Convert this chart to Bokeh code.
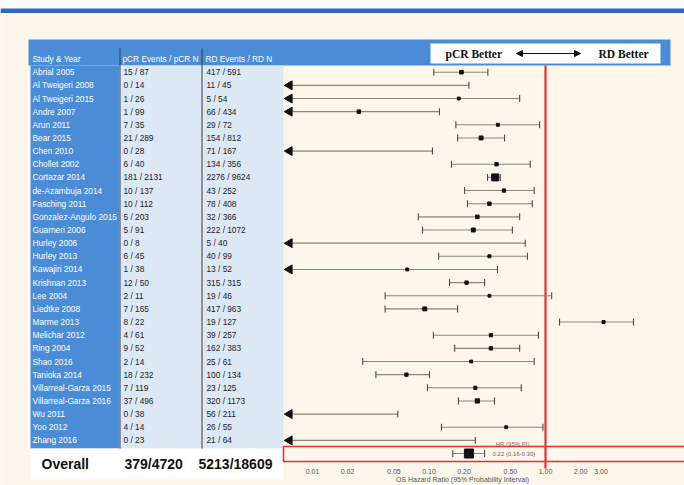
import numpy as np
from bokeh.plotting import figure
from bokeh.models import (ColumnDataSource, Range1d, LogScale, LogAxis, FixedTicker,
                          PrintfTickFormatter, Label, Arrow, NormalHead)
from bokeh.embed import file_html
from bokeh.resources import INLINE
from bokeh.core.properties import value

# ---- study table ----
studies = ["Abrial 2005", "Al Tweigeri 2008", "Al Tweigeri 2015", "Andre 2007", "Arun 2011",
           "Bear 2015", "Chen 2010", "Chollet 2002", "Cortazar 2014", "de-Azambuja 2014",
           "Fasching 2011", "Gonzalez-Angulo 2015", "Guarneri 2006", "Hurley 2006", "Hurley 2013",
           "Kawajiri 2014", "Krishnan 2013", "Lee 2004", "Liedtke 2008", "Marme 2013",
           "Melichar 2012", "Ring 2004", "Shao 2016", "Tanioka 2014", "Villarreal-Garza 2015",
           "Villarreal-Garza 2016", "Wu 2011", "Yoo 2012", "Zhang 2016"]
pcr_events = [15, 0, 1, 1, 7, 21, 0, 6, 181, 10, 10, 5, 5, 0, 6, 1, 12, 2, 7, 8,
              4, 9, 2, 18, 7, 37, 0, 4, 0]
pcr_n = [87, 14, 26, 99, 35, 289, 28, 40, 2131, 137, 112, 203, 91, 8, 45, 38, 50, 11, 165, 22,
         61, 52, 14, 232, 119, 496, 38, 14, 23]
rd_events = [417, 11, 5, 66, 29, 154, 71, 134, 2276, 43, 78, 32, 222, 5, 40, 13, 315, 19, 417, 19,
             39, 162, 25, 100, 23, 320, 56, 26, 21]
rd_n = [591, 45, 54, 434, 72, 812, 167, 356, 9624, 252, 408, 366, 1072, 40, 99, 52, 315, 46, 963, 127,
        257, 383, 61, 134, 125, 1173, 211, 55, 64]

# ---- hazard ratios with 95% probability intervals ----
hr = [0.19, 0.004, 0.18, 0.025, 0.39, 0.28, 0.004, 0.38, 0.37, 0.44, 0.33, 0.26, 0.24, 0.005, 0.33,
      0.065, 0.21, 0.33, 0.092, 3.15, 0.34, 0.34, 0.23, 0.064, 0.25, 0.26, 0.003, 0.46, 0.004]
hr_lo = [0.11, 0.0002, 0.004, 0.002, 0.17, 0.176, 0.0001, 0.156, 0.318, 0.202, 0.214, 0.081, 0.088,
         0.0001, 0.121, 0.003, 0.15, 0.042, 0.042, 1.32, 0.109, 0.166, 0.027, 0.035, 0.097, 0.179,
         0.0001, 0.128, 0.0001]
hr_hi = [0.32, 0.22, 0.60, 0.123, 0.89, 0.445, 0.107, 0.74, 0.41, 0.80, 0.77, 0.60, 0.52, 0.67, 0.70,
         0.387, 0.30, 1.13, 0.176, 5.69, 0.87, 0.60, 0.80, 0.101, 0.62, 0.365, 0.054, 0.95, 0.25]

overall_pcr = (379, 4720)
overall_rd = (5213, 18609)
overall_hr, overall_lo, overall_hi = 0.22, 0.16, 0.30

axis_ticks = [0.01, 0.02, 0.05, 0.10, 0.20, 0.50, 1.00, 2.00, 3.00]

# ---- page geometry (screen units, y grows downwards) ----
W, H = 684, 485
ROW0, ROW_STEP = 71.7, 13.15
DEC_PX = 116.5        # pixels per decade on the hazard-ratio axis
X_AT_001 = 312.0      # screen column of HR = 0.01
FOREST_LEFT = 283

BLUE = "#4b8cd6"
LIGHT = "#dde8f5"
CREAM = "#fdf6ea"
SANS = value("Liberation Sans")
TBL_SIZE = "8.3px"


def px_to_hr(px):
    return 10 ** (-2 + (px - X_AT_001) / DEC_PX)


p = figure(width=W, height=H, x_range=Range1d(0, W), y_range=Range1d(H, 0),
           output_backend="svg", toolbar_location=None,
           x_axis_location=None, y_axis_location=None,
           min_border=0, outline_line_color=None,
           background_fill_color=CREAM, border_fill_color=CREAM)
p.grid.visible = False
p.extra_x_ranges = {"hr": Range1d(px_to_hr(0), px_to_hr(W))}
p.extra_x_scales = {"hr": LogScale()}

# ---- page furniture ----
p.quad(left=[0], right=[W], top=[0], bottom=[14], fill_color="#fbfbfb", line_color=None)
p.quad(left=[0], right=[W], top=[8], bottom=[12.5], fill_color="#3567bd", line_color=None)
p.quad(left=[28], right=[670], top=[39], bottom=[65], fill_color=BLUE, line_color=None)
p.quad(left=[30], right=[119], top=[65], bottom=[448], fill_color=BLUE, line_color=None)
p.quad(left=[119], right=[FOREST_LEFT], top=[65], bottom=[448], fill_color=LIGHT, line_color=None)
p.quad(left=[30], right=[FOREST_LEFT], top=[448], bottom=[479], fill_color="white", line_color=None)
p.segment(x0=[119.5, 201.5], x1=[119.5, 201.5], y0=[48, 48], y1=[448, 448],
          line_color="#3a3a3a", line_width=1)

# header box with direction arrow
p.quad(left=[430], right=[660], top=[43], bottom=[63], fill_color="white", line_color=None)
hdr_font = value("Liberation Serif")
p.text(x=[445], y=[53], text=["pCR Better"], text_font=hdr_font, text_font_style="bold",
       text_font_size="11.5px", text_baseline="middle", text_color="#111")
p.text(x=[598], y=[53], text=["RD Better"], text_font=hdr_font, text_font_style="bold",
       text_font_size="11.5px", text_baseline="middle", text_color="#111")
p.add_layout(Arrow(x_start=516, x_end=580, y_start=53, y_end=53, line_width=1, line_color="#111",
                   start=NormalHead(size=6, fill_color="#111", line_color="#111"),
                   end=NormalHead(size=6, fill_color="#111", line_color="#111")))

# ---- table text ----
row_y = ROW0 + ROW_STEP * np.arange(len(studies))
p.text(x=[32, 122, 205], y=[58] * 3, text=["Study & Year", "pCR Events / pCR N", "RD Events / RD N"],
       text_font=SANS, text_font_size=TBL_SIZE, text_baseline="middle", text_color="white")

tbl = ColumnDataSource(dict(
    y=row_y, study=studies,
    pcr=[f"{e} / {n}" for e, n in zip(pcr_events, pcr_n)],
    rd=[f"{e} / {n}" for e, n in zip(rd_events, rd_n)]))
p.text(x=32, y="y", text="study", source=tbl, text_font=SANS, text_font_size=TBL_SIZE,
       text_baseline="middle", text_color="white")
p.text(x=123, y="y", text="pcr", source=tbl, text_font=SANS, text_font_size=TBL_SIZE,
       text_baseline="middle", text_color="#222")
p.text(x=206, y="y", text="rd", source=tbl, text_font=SANS, text_font_size=TBL_SIZE,
       text_baseline="middle", text_color="#222")

p.text(x=[41, 124, 198], y=[463] * 3,
       text=["Overall", f"{overall_pcr[0]}/{overall_pcr[1]}", f"{overall_rd[0]}/{overall_rd[1]}"],
       text_font=SANS, text_font_style="bold", text_font_size="14px",
       text_baseline="middle", text_color="#111")

# ---- forest plot ----
floor = px_to_hr(289)      # left clip of the forest panel
hr_a, lo_a, hi_a = np.array(hr), np.array(hr_lo), np.array(hr_hi)
n_tot = np.array(pcr_n) + np.array(rd_n)

p.segment(x0=[1.0], x1=[1.0], y0=[65], y1=[468], x_range_name="hr",
          line_color="#e5322d", line_width=2.2)

ci = ColumnDataSource(dict(y=row_y, x0=np.maximum(lo_a, floor), x1=hi_a))
p.segment(x0="x0", x1="x1", y0="y", y1="y", source=ci, x_range_name="hr",
          line_color="#8d8577", line_width=1.1)
p.scatter(x="x1", y="y", source=ci, x_range_name="hr", marker="dash", angle=np.pi / 2,
          size=7, line_color="#4a4a4a", line_width=1.1)

lo_in = lo_a >= floor
p.scatter(x=lo_a[lo_in], y=row_y[lo_in], x_range_name="hr", marker="dash", angle=np.pi / 2,
          size=7, line_color="#4a4a4a", line_width=1.1)

clipped = ~lo_in
p.scatter(x=[floor] * int(clipped.sum()), y=row_y[clipped], x_range_name="hr",
          marker="triangle", angle=np.pi / 2, size=9, fill_color="#111", line_color="#111")

pt_in = hr_a >= floor
p.scatter(x=hr_a[pt_in], y=row_y[pt_in], x_range_name="hr", marker="square",
          size=2.5 + 4.5 * np.sqrt(n_tot[pt_in] / n_tot.max()),
          fill_color="#111", line_color="#111")

# pooled estimate
OV_Y = 453
p.quad(left=[FOREST_LEFT], right=[W + 2], top=[446], bottom=[461], fill_color=None,
       line_color="#e5322d", line_width=1.6)
p.segment(x0=[overall_lo], x1=[overall_hi], y0=[OV_Y], y1=[OV_Y], x_range_name="hr",
          line_color="#8d8577", line_width=1.1)
p.scatter(x=[overall_lo, overall_hi], y=[OV_Y, OV_Y], x_range_name="hr", marker="dash",
          angle=np.pi / 2, size=7, line_color="#4a4a4a", line_width=1.1)
p.scatter(x=[overall_hr], y=[OV_Y], x_range_name="hr", marker="square", size=9,
          fill_color="#111", line_color="#111")
p.add_layout(Label(x=overall_hi, y=OV_Y, x_range_name="hr", x_offset=8,
                   text=f"{overall_hr:.2f} ({overall_lo:.2f}-{overall_hi:.2f})",
                   text_font_size="6px", text_color="#666", text_baseline="middle"))
p.add_layout(Label(x=overall_hi, y=443, x_range_name="hr", x_offset=28,
                   text="HR (95% PI)", text_font_size="6px", text_color="#777",
                   text_baseline="middle", text_align="center"))

# ---- hazard ratio axis ----
ax = LogAxis(x_range_name="hr", fixed_location=466,
             ticker=FixedTicker(ticks=axis_ticks),
             formatter=PrintfTickFormatter(format="%.2f"),
             axis_line_color=None, major_tick_line_color=None, minor_tick_line_color=None,
             major_tick_in=0, major_tick_out=0, major_label_standoff=2,
             major_label_text_font_size="7px", major_label_text_color="#555")
p.add_layout(ax, "below")
p.add_layout(Label(x=px_to_hr(462), y=479, x_range_name="hr",
                   text="OS Hazard Ratio (95% Probability Interval)",
                   text_font_size="7px", text_color="#555", text_align="center",
                   text_baseline="middle"))

open("out.html", "w").write(file_html(p, INLINE))
